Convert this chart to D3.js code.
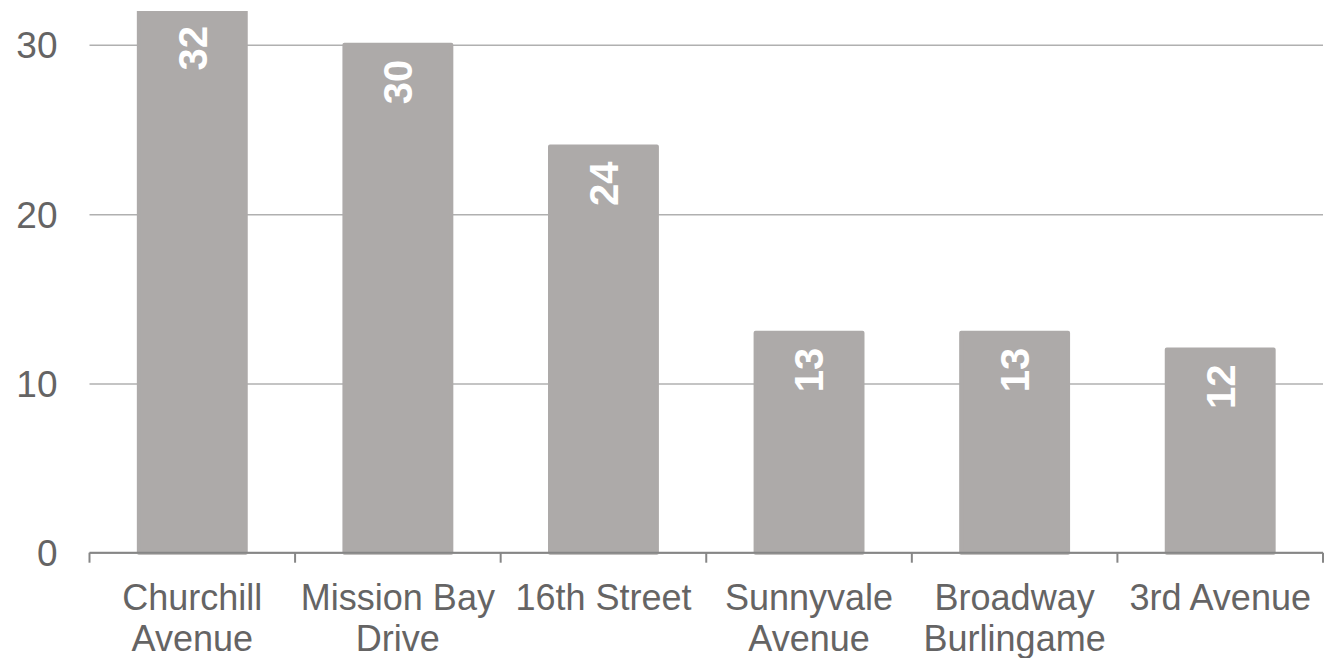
<!DOCTYPE html>
<html>
<head>
<meta charset="utf-8">
<script src="https://cdn.jsdelivr.net/npm/d3@7/dist/d3.min.js"></script>
<style>
  body { margin: 0; background: #fff; }
  svg { display: block; font-family: "Liberation Sans", Arial, sans-serif; }
</style>
</head>
<body>
<div class="box"></div>
<script>
// données
const stations = ['Churchill Avenue', 'Mission Bay Drive', '16th Street', 'Sunnyvale Avenue', 'Broadway Burlingame', '3rd Avenue'];
const counts = [32, 30, 24, 13, 13, 12];
const yTicks = [0, 10, 20, 30];

const dims = {width: 1324, height: 658};
const plot = {left: 89.5, right: 1323, top: 11, bottom: 552.7};

const svg = d3.select('.box')
              .append('svg')
              .attr('width', dims.width)
              .attr('height', dims.height);

const x = d3.scaleBand()
            .domain(stations)
            .range([plot.left, plot.right])
            .paddingInner(0.48)
            .paddingOuter(0.24);

const y = d3.scaleLinear()
            .domain([0, 32])
            .range([plot.bottom, plot.top]);

svg.append('clipPath')
   .attr('id', 'zone')
   .append('rect')
   .attr('x', 0)
   .attr('y', plot.top)
   .attr('width', dims.width)
   .attr('height', dims.height - plot.top);

// grille + labels y
const yAxis = svg.append('g')
                 .attr('transform', `translate(${plot.left}, 0)`)
                 .call(d3.axisLeft(y).tickValues(yTicks).tickSize(-(plot.right - plot.left)).tickPadding(32));

yAxis.select('.domain').remove();
yAxis.selectAll('.tick line')
     .attr('stroke', '#b0b0b0')
     .attr('stroke-width', 1.5);
yAxis.selectAll('.tick text')
     .attr('fill', '#656464')
     .attr('font-size', 37)
     .attr('dy', '0.35em');

// barres
const bars = svg.append('g').attr('clip-path', 'url(#zone)');

bars.selectAll('rect')
    .data(counts)
    .enter()
    .append('rect')
    .attr('x', (d, i) => x(stations[i]))
    .attr('y', d => y(d))
    .attr('width', x.bandwidth())
    .attr('height', d => y(0) - y(d))
    .attr('fill', '#adaaa9')
    .attr('stroke', '#adaaa9')
    .attr('stroke-width', 4)
    .attr('stroke-linejoin', 'round');

// valeurs
bars.selectAll('text')
    .data(counts)
    .enter()
    .append('text')
    .attr('transform', (d, i) => `translate(${x(stations[i]) + x.bandwidth() / 2}, ${y(d) + 15}) rotate(-90)`)
    .attr('text-anchor', 'end')
    .attr('dy', '0.36em')
    .attr('fill', '#fff')
    .attr('font-weight', 'bold')
    .attr('font-size', 40)
    .text(d => d3.format('d')(d));

// axe x
const xAxis = svg.append('g');

xAxis.append('line')
     .attr('x1', plot.left)
     .attr('x2', plot.right)
     .attr('y1', plot.bottom)
     .attr('y2', plot.bottom)
     .attr('stroke', '#868686')
     .attr('stroke-width', 2);

const bounds = stations.map(s => x(s) - x.step() * x.paddingInner() / 2).concat([plot.right]);

xAxis.selectAll('.tick')
     .data(bounds)
     .enter()
     .append('line')
     .attr('x1', d => d)
     .attr('x2', d => d)
     .attr('y1', plot.bottom)
     .attr('y2', plot.bottom + 10)
     .attr('stroke', '#868686')
     .attr('stroke-width', 2);

const labels = xAxis.selectAll('.lab')
                    .data(stations)
                    .enter()
                    .append('text')
                    .attr('x', d => x(d) + x.bandwidth() / 2)
                    .attr('y', 610)
                    .attr('text-anchor', 'middle')
                    .attr('fill', '#656464')
                    .attr('font-size', 36);

// retour à la ligne si trop large
labels.each(function(d) {
    const t = d3.select(this);
    const words = d.split(' ');
    let line = [];
    let tspan = t.append('tspan').attr('x', t.attr('x')).attr('dy', 0);
    words.forEach(w => {
        line.push(w);
        tspan.text(line.join(' '));
        if (tspan.node().getComputedTextLength() > x.step() && line.length > 1) {
            line.pop();
            tspan.text(line.join(' '));
            line = [w];
            tspan = t.append('tspan').attr('x', t.attr('x')).attr('dy', 41).text(w);
        }
    });
});
</script>
</body>
</html>
